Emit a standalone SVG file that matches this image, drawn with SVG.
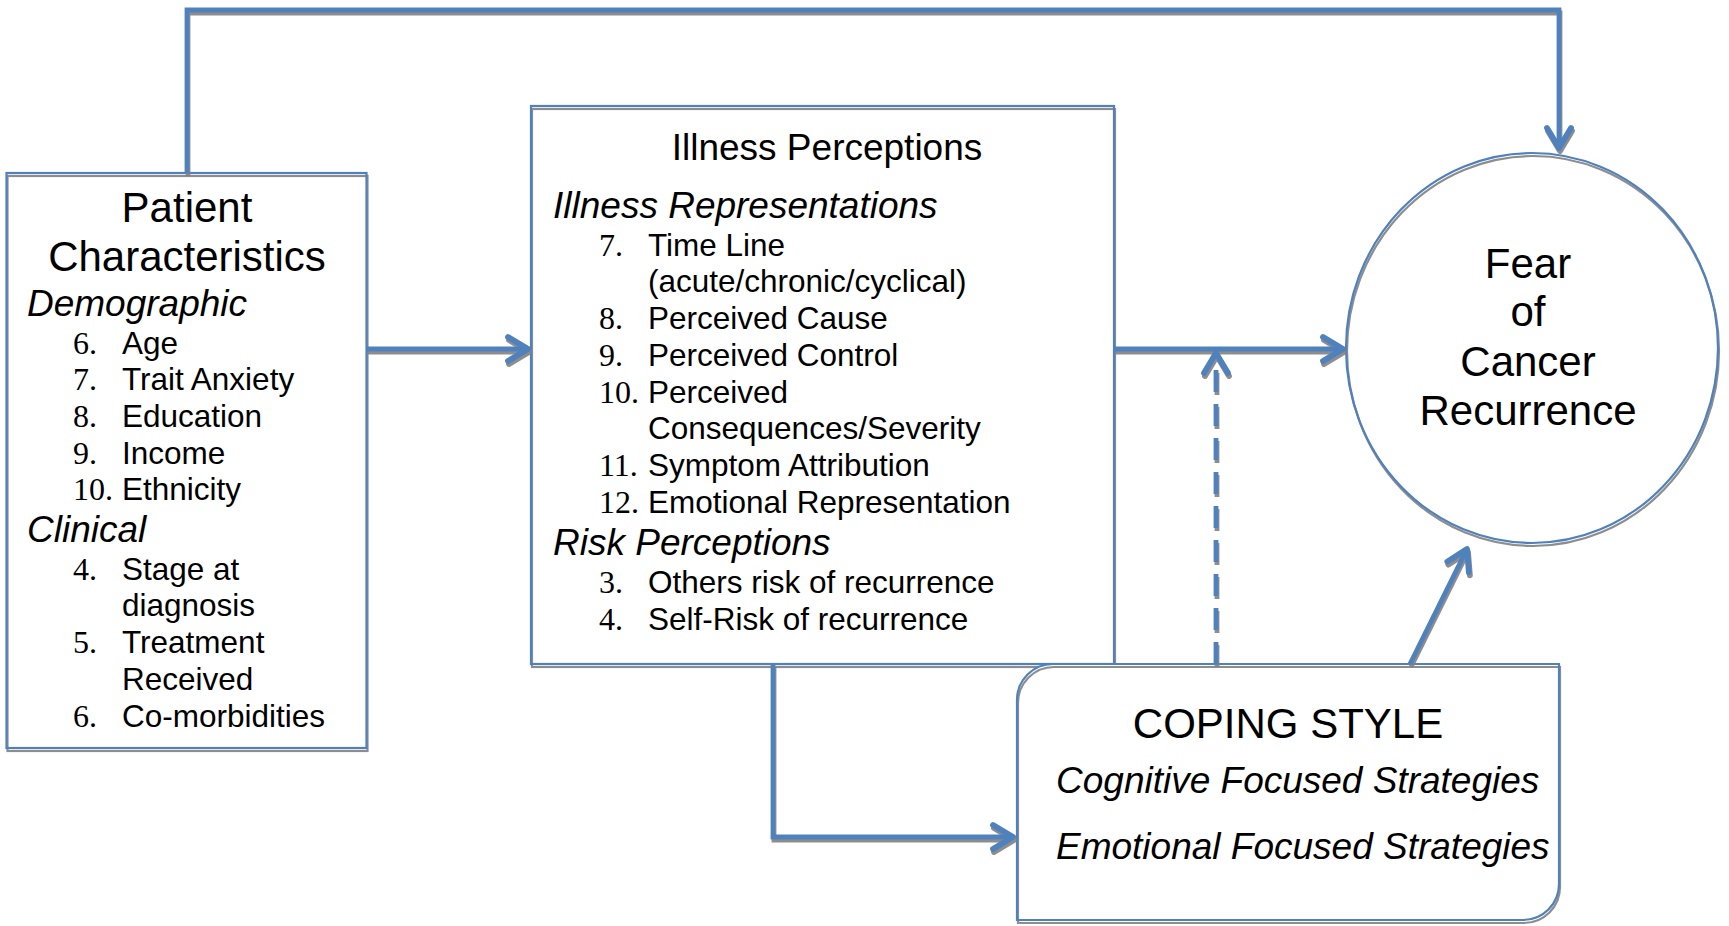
<svg xmlns="http://www.w3.org/2000/svg" width="1729" height="926" viewBox="0 0 1729 926">
<style>
  .t { font-family: "Liberation Sans", Arial, sans-serif; fill: #000; }
  .title { font-size: 42px; text-anchor: middle; }
  .h2 { font-size: 37px; }
  .it { font-style: italic; font-size: 37px; }
  .item { font-size: 31.5px; }
  .num { font-family: "Liberation Serif", "Times New Roman", serif; font-size: 32px; fill: #000; }
  .edge { fill: none; stroke: #4F81BD; stroke-width: 2.2; }
  .fillw { fill: #fff; stroke: none; }
  .conn { fill: none; stroke: #4F81BD; stroke-width: 4.8; }
</style>
<defs>
  <filter id="sh" x="-10%" y="-10%" width="120%" height="120%">
    <feDropShadow dx="1" dy="3" stdDeviation="0.6" flood-color="#808080" flood-opacity="0.9"/>
  </filter>
  <marker id="ah" markerUnits="userSpaceOnUse" viewBox="-26 -16 32 32" markerWidth="32" markerHeight="32" refX="0" refY="0" orient="auto" overflow="visible">
    <path d="M-20,-12 L0,0 L-20,12" fill="none" stroke="#4F81BD" stroke-width="5.8" stroke-linecap="round" stroke-linejoin="round"/>
  </marker>
</defs>
<rect width="1729" height="926" fill="#fff"/>

<g id="patient">
  <rect class="fillw" x="6.5" y="173" width="360" height="575"/>
  <rect class="edge" x="6.5" y="173" width="360" height="575" filter="url(#sh)"/>
  <text class="t title" x="187" y="222">Patient</text>
  <text class="t title" x="187" y="271">Characteristics</text>
  <text class="t it" x="27" y="316">Demographic</text>
  <text class="num" x="73" y="354">6.</text><text class="t item" x="122" y="354">Age</text>
  <text class="num" x="73" y="390">7.</text><text class="t item" x="122" y="390">Trait Anxiety</text>
  <text class="num" x="73" y="427">8.</text><text class="t item" x="122" y="427">Education</text>
  <text class="num" x="73" y="464">9.</text><text class="t item" x="122" y="464">Income</text>
  <text class="num" x="73" y="500">10.</text><text class="t item" x="122" y="500">Ethnicity</text>
  <text class="t it" x="27" y="542">Clinical</text>
  <text class="num" x="73" y="580">4.</text><text class="t item" x="122" y="580">Stage at</text>
  <text class="t item" x="122" y="616">diagnosis</text>
  <text class="num" x="73" y="653">5.</text><text class="t item" x="122" y="653">Treatment</text>
  <text class="t item" x="122" y="690">Received</text>
  <text class="num" x="73" y="727">6.</text><text class="t item" x="122" y="727">Co-morbidities</text>
</g>

<g id="illness">
  <rect class="fillw" x="531" y="106" width="583" height="558"/>
  <rect class="edge" x="531" y="106" width="583" height="558" filter="url(#sh)"/>
  <text class="t h2" x="827" y="160" text-anchor="middle">Illness Perceptions</text>
  <text class="t it" x="553" y="218">Illness Representations</text>
  <text class="num" x="599" y="256">7.</text><text class="t item" x="648" y="256">Time Line</text>
  <text class="t item" x="648" y="292">(acute/chronic/cyclical)</text>
  <text class="num" x="599" y="329">8.</text><text class="t item" x="648" y="329">Perceived Cause</text>
  <text class="num" x="599" y="366">9.</text><text class="t item" x="648" y="366">Perceived Control</text>
  <text class="num" x="599" y="403">10.</text><text class="t item" x="648" y="403">Perceived</text>
  <text class="t item" x="648" y="439">Consequences/Severity</text>
  <text class="num" x="599" y="476">11.</text><text class="t item" x="648" y="476">Symptom Attribution</text>
  <text class="num" x="599" y="513">12.</text><text class="t item" x="648" y="513">Emotional Representation</text>
  <text class="t it" x="553" y="555">Risk Perceptions</text>
  <text class="num" x="599" y="593">3.</text><text class="t item" x="648" y="593">Others risk of recurrence</text>
  <text class="num" x="599" y="630">4.</text><text class="t item" x="648" y="630">Self-Risk of recurrence</text>
</g>

<g id="fear">
  <ellipse class="fillw" cx="1532" cy="348" rx="186" ry="195"/>
  <ellipse class="edge" cx="1532" cy="348" rx="186" ry="195" filter="url(#sh)"/>
  <text class="t title" x="1528" y="278">Fear</text>
  <text class="t title" x="1528" y="326">of</text>
  <text class="t title" x="1528" y="376">Cancer</text>
  <text class="t title" x="1528" y="425">Recurrence</text>
</g>

<g id="coping">
  <path class="fillw" d="M1053,664 H1559 V884 A36,36 0 0 1 1523,920 H1017 V700 A36,36 0 0 1 1053,664 Z"/>
  <path class="edge" d="M1053,664 H1559 V884 A36,36 0 0 1 1523,920 H1017 V700 A36,36 0 0 1 1053,664 Z" filter="url(#sh)"/>
  <text class="t title" x="1288" y="738">COPING STYLE</text>
  <text class="t it" x="1056" y="793">Cognitive Focused Strategies</text>
  <text class="t it" x="1056" y="859">Emotional Focused Strategies</text>
</g>

<g id="connectors" filter="url(#sh)">
  <path class="conn" d="M187,173 V10 H1559 V148" marker-end="url(#ah)"/>
  <path class="conn" d="M367,349 H528" marker-end="url(#ah)"/>
  <path class="conn" d="M1114,349 H1343" marker-end="url(#ah)"/>
  <path class="conn" d="M773,664 V837 H1013" marker-end="url(#ah)"/>
  <path class="conn" d="M1410,664 L1467,549" marker-end="url(#ah)"/>
  <path class="conn" d="M1216,664 V356" stroke-width="4" stroke-dasharray="22 12"/>
  <path d="M1204,373 L1216,353 L1228,373" fill="none" stroke="#4F81BD" stroke-width="5.8" stroke-linecap="round" stroke-linejoin="round"/>
</g>
</svg>
